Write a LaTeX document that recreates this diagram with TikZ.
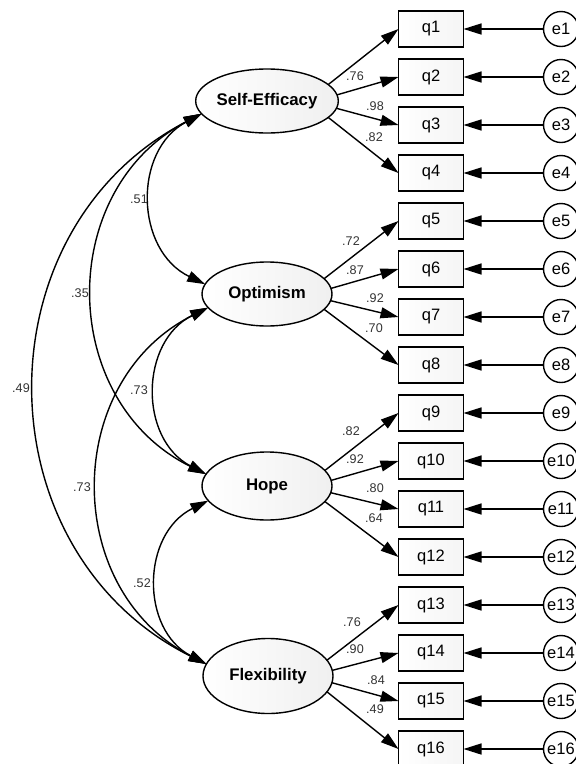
\documentclass[tikz,border=0pt]{standalone}
\usepackage{fontspec}
\setmainfont{Liberation Sans}
\usetikzlibrary{arrows.meta,shapes.geometric}

\begin{document}
\begin{tikzpicture}[x=1pt,y=-1pt,
  every node/.style={inner sep=0pt, outer sep=0pt},
  >={Triangle[length=18pt,width=11pt]},
  latent/.style={ellipse, draw, line width=1.4pt, minimum width=130pt,
    minimum height=64pt, left color=white, right color=black!6,
    font=\fontsize{16.8}{20}\selectfont\bfseries},
  obs/.style={rectangle, draw, line width=1.4pt, minimum width=65pt,
    minimum height=36pt, left color=white, right color=black!4,
    font=\fontsize{16.5}{20}\selectfont},
  err/.style={circle, draw, line width=1.4pt, minimum size=35pt, fill=white,
    font=\fontsize{16.5}{20}\selectfont},
  arr/.style={line width=1.4pt, ->},
  cov/.style={line width=1.4pt, <->, bend right=63, looseness=1.17},
  coef/.style={font=\fontsize{12.6}{14}\selectfont, text=black!80},
]
\useasboundingbox (0,0) rectangle (576,764);

% observed indicators and their error terms
\foreach \i [evaluate=\i as \yy using 29+48*(\i-1)] in {1,...,16} {
  \node[obs] (q\i) at (431,\yy) {q\i};
  \node[err] (e\i) at (561,\yy) {e\i};
  \draw[arr] (e\i) -- (q\i);
}

% latent factors
\node[latent] (se)   at (267,101) {Self-Efficacy};
\node[latent] (opt)  at (267,294) {Optimism};
\node[latent, minimum height=68pt] (hope) at (267,486) {Hope};
\node[latent, minimum height=75pt] (flex) at (268,676) {Flexibility};

% factor loadings
\foreach \f/\a/\b/\c/\d in {se/1/2/3/4, opt/5/6/7/8, hope/9/10/11/12, flex/13/14/15/16} {
  \draw[arr] (\f.15) -- (q\a.west);
  \draw[arr] (\f.5) -- (q\b.west);
  \draw[arr] (\f.-6) -- (q\c.west);
  \draw[arr] (\f.-15) -- (q\d.west);
}

\node[coef] (l2)  at (355,76)  {.76};
\node[coef] (l3)  at (375,106) {.98};
\node[coef] (l4)  at (374,137) {.82};
\node[coef] (l5)  at (351,241) {.72};
\node[coef] (l6)  at (355,270) {.87};
\node[coef] (l7)  at (375,298) {.92};
\node[coef] (l8)  at (374,328) {.70};
\node[coef] (l9)  at (351,431) {.82};
\node[coef] (l10) at (355,459) {.92};
\node[coef] (l11) at (375,488) {.80};
\node[coef] (l12) at (374,518) {.64};
\node[coef] (l13) at (352,622) {.76};
\node[coef] (l14) at (355,649) {.90};
\node[coef] (l15) at (376,680) {.84};
\node[coef] (l16) at (375,709) {.49};

% factor covariances
\draw[cov] (se.191)   to (opt.171);
\draw[cov] (se.191)   to (hope.169);
\draw[cov] (se.191)   to (flex.169);
\draw[cov] (opt.193)  to (hope.169);
\draw[cov] (opt.193)  to (flex.169);
\draw[cov] (hope.194) to (flex.169);

\node[coef] (c1) at (139,199) {.51};
\node[coef] (c2) at (80,293)  {.35};
\node[coef] (c3) at (21,388)  {.49};
\node[coef] (c4) at (139,390) {.73};
\node[coef] (c5) at (82,487)  {.73};
\node[coef] (c6) at (142,583) {.52};
\end{tikzpicture}
\end{document}
